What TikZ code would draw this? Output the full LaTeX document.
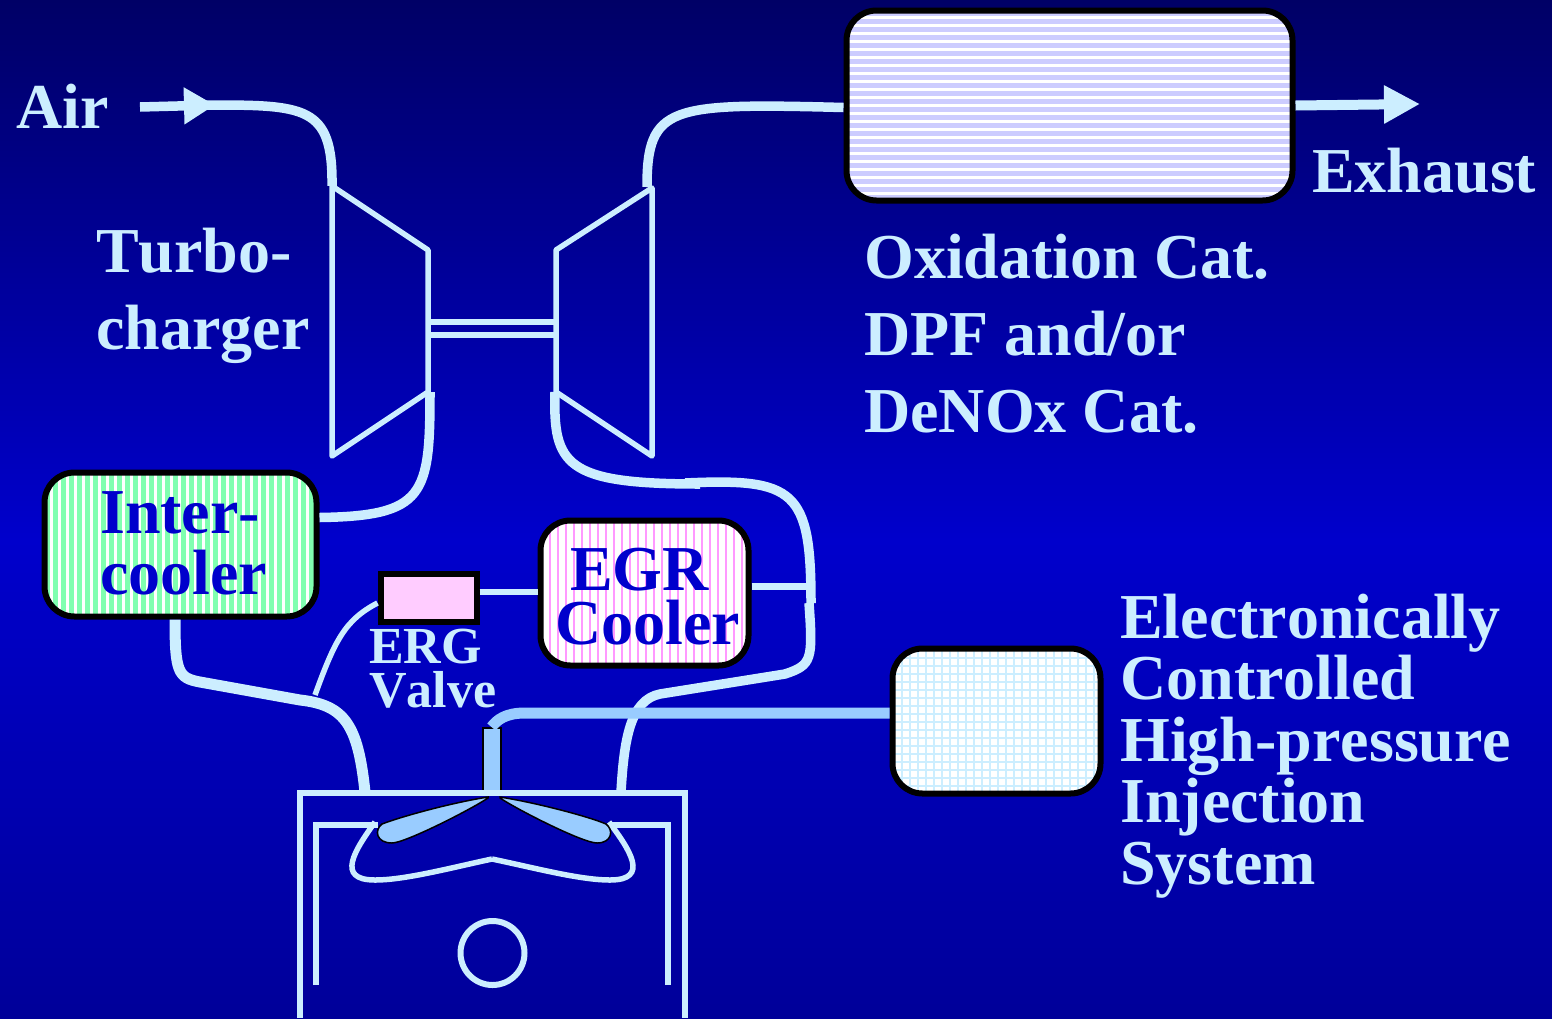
\documentclass[tikz,border=0pt]{standalone}
\usepackage{fontspec}
\setmainfont[Kerning=Off]{Liberation Serif}
\usetikzlibrary{calc}
\usetikzlibrary{positioning}
\usetikzlibrary{arrows.meta}
\definecolor{pipe col}{HTML}{CCEEFF}
\definecolor{fuel col}{HTML}{99CCFF}
\definecolor{ink col}{HTML}{0000CC}
\definecolor{sky col}{HTML}{000066}
\definecolor{floor col}{HTML}{000099}
\definecolor{cool col}{HTML}{80FFB0}
\definecolor{egr col}{HTML}{FF99FF}
\definecolor{valve col}{HTML}{FFCCFF}
\definecolor{dpf col}{HTML}{CCCCFF}
\tikzset{
	across/.style 2 args={path picture={\foreach \n in {0,8,...,200} \fill[sharp corners,#1] ([yshift=-\n pt]path picture bounding box.north west) rectangle ++(500,#2);}},
	down/.style 2 args={path picture={\foreach \n in {0,8,...,290} \fill[sharp corners,#1] ([xshift=\n pt]path picture bounding box.north west) rectangle ++(#2,200);}},
	mesh/.style={path picture={\foreach \n in {0,8,...,290} {
		\fill[sharp corners,#1] ([xshift=\n pt]path picture bounding box.north west) rectangle ++(2.5,200);
		\fill[sharp corners,#1] ([yshift=-\n pt]path picture bounding box.north west) rectangle ++(300,2.5);
	}}},
	unit/.style={draw=black,fill=white,line width=6pt,rounded corners=30pt,inner sep=0pt},
	pipe/.style={draw=pipe col,line width=9.5pt},
	thin pipe/.style={draw=pipe col,line width=5.5pt},
	spray/.style={draw=black,fill=fuel col,line width=1.5pt},
	big label/.style={font=\fontsize{64}{#1}\selectfont\bfseries,text=pipe col,align=left,inner sep=0pt,anchor=base west},
	big label/.default=77,
	small label/.style={font=\fontsize{52}{44}\selectfont\bfseries,text=pipe col,align=left,inner sep=0pt,anchor=base west},
	in label/.style={font=\fontsize{64}{#1}\selectfont\bfseries,text=ink col,align=left,inner sep=0pt,anchor=base west},
}
\begin{document}
\begin{tikzpicture}[x=1pt,y=-1pt]
	\useasboundingbox (0,0) rectangle (1552,1018);
	\shade[top color=sky col,bottom color=ink col] (0,0) rectangle (1552,540);
	\shade[top color=ink col,bottom color=floor col] (0,540) rectangle (1552,1018);

	% units
	\node[unit,minimum width=446pt,minimum height=190pt,across={fill=dpf col}{5}] (dpf) at (1069.5,105.5) {};
	\node[unit,minimum width=272pt,minimum height=144pt,down={fill=cool col}{5}] (intercooler) at (180.5,544.5) {};
	\node[unit,minimum width=208pt,minimum height=145pt,down={fill=egr col}{2.5}] (egr cooler) at (644.5,593) {};
	\node[unit,minimum width=208pt,minimum height=145pt,mesh={fill=pipe col}] (injection) at (996.5,721) {};
	\node[draw=black,fill=valve col,line width=6pt,inner sep=0pt,minimum width=96pt,minimum height=48pt] (valve) at (428.5,598) {};

	% turbocharger
	\coordinate (comp in) at (332,186);
	\coordinate (comp out) at (430,392);
	\coordinate (turb in) at (652,188);
	\coordinate (turb out) at (555,392);
	\draw[thin pipe,line join=round] (comp in) -- (428,250) -- (428,392) -- (332,456) -- cycle;
	\draw[thin pipe,line join=round] (turb in) -- (556,250) -- (556,392) -- (652,456) -- cycle;
	\draw[thin pipe] (430,322) -- (555,322);
	\draw[thin pipe] (430,335) -- (555,335);

	% air and exhaust
	\coordinate (air in) at (140,107);
	\coordinate (air tip) at (215,105);
	\coordinate (stack) at (1420,104);
	\draw[pipe,-{Triangle[length=31pt,width=35pt]}] (air in) -- (air tip);
	\draw[pipe] (205,105) .. controls (305,105) and (333,105) .. (comp in);
	\draw[pipe] ([yshift=-2pt]dpf.west) .. controls (670,103) and (647,105) .. (647,187);
	\draw[draw=pipe col,line width=10pt,-{Triangle[length=36pt,width=36pt]}] (dpf.east) -- (stack);

	% charge air and exhaust gas recirculation
	\coordinate (port l) at (365,792);
	\coordinate (port r) at (621,792);
	\coordinate (egr tee) at (811,603);
	\draw[pipe] (comp out) .. controls (430,495) and (425,516) .. ([yshift=27pt]intercooler.east);
	\draw[pipe] (turb out) .. controls (553,465) and (565,484) .. (700,484);
	\draw[pipe] (685,483) .. controls (795,478) and (811,490) .. (egr tee);
	\draw[pipe] (809,603) .. controls (813,660) and (812,665) .. (785,674) -- (660,694) .. controls (630,700) and (624,740) .. (port r);
	\draw[draw=pipe col,line width=7pt] (egr cooler.east |- egr tee) ++(0,-17) -- ++(60,0);
	\draw[draw=pipe col,line width=11pt] (intercooler.south -| 175,0) .. controls (175,672) and (178,678) .. (200,682) -- (300,700) .. controls (345,705) and (358,725) .. (port l);
	\draw[draw=pipe col,line width=6pt] (valve.east) ++(0,-6) -- (egr cooler.west |- 0,592);
	\draw[thin pipe] ([yshift=-5pt]valve.west) .. controls (345,620) and (335,640) .. (315,695);

	% fuel line and injector
	\node[draw=black,fill=fuel col,line width=2pt,inner sep=0pt,minimum width=18pt,minimum height=64pt] (injector) at (491.5,760) {};
	\draw[draw=fuel col,line width=11pt] ([yshift=8pt]injection.west) -- (525,713) .. controls (505,713) and (497,720) .. (injector.north);

	% engine
	\coordinate (block l) at (300,1018);
	\coordinate (block r) at (685,1018);
	\draw[draw=pipe col,line width=6pt] (block l) -- (300,793) -- (685,793) -- (block r);
	\draw[draw=pipe col,line width=5.5pt] (316,985) -- (316,825) -- (378,825);
	\draw[draw=pipe col,line width=5.5pt] (668,985) -- (668,825) -- (610,825);
	\draw[draw=pipe col,line width=5.5pt] (375,822) .. controls (355,850) and (335,880) .. (375,880) .. controls (405,880) and (450,868) .. (492,859);
	\draw[draw=pipe col,line width=5.5pt] (609,822) .. controls (630,850) and (650,880) .. (610,880) .. controls (580,880) and (535,868) .. (492,859);
	\draw[spray] (488,797) .. controls (450,803) and (400,817) .. (382,824) .. controls (374,830) and (376,843) .. (392,843) .. controls (405,843) and (470,810) .. (488,798) -- cycle;
	\draw[spray] (500,797) .. controls (538,803) and (590,817) .. (606,824) .. controls (614,830) and (612,843) .. (597,843) .. controls (583,843) and (518,810) .. (500,798) -- cycle;
	\node[draw=pipe col,line width=6pt,circle,inner sep=0pt,minimum size=64pt] (pin) at (492.5,953) {};

	% labels
	\node[big label] (air) at (16,128) {Air};
	\node[big label] (turbo) at (96,349) {Turbo-\\charger};
	\node[big label] (exhaust) at (1312,192) {Exhaust};
	\node[big label] (cat) at (864,432) {Oxidation Cat.\\DPF and/or\\DeNOx Cat.};
	\node[big label=61.5] (system) at (1120,884) {Electronically\\Controlled\\High-pressure\\Injection\\System};
	\node[small label] (valve label) at (369,707) {ERG\\Valve};
	\node[in label=61] (intercooler label) at (100,594) {Inter-\\cooler};
	\node[in label=54] (egr label) at (555,644) {\hspace*{15pt}EGR\\Cooler};
\end{tikzpicture}
\end{document}
